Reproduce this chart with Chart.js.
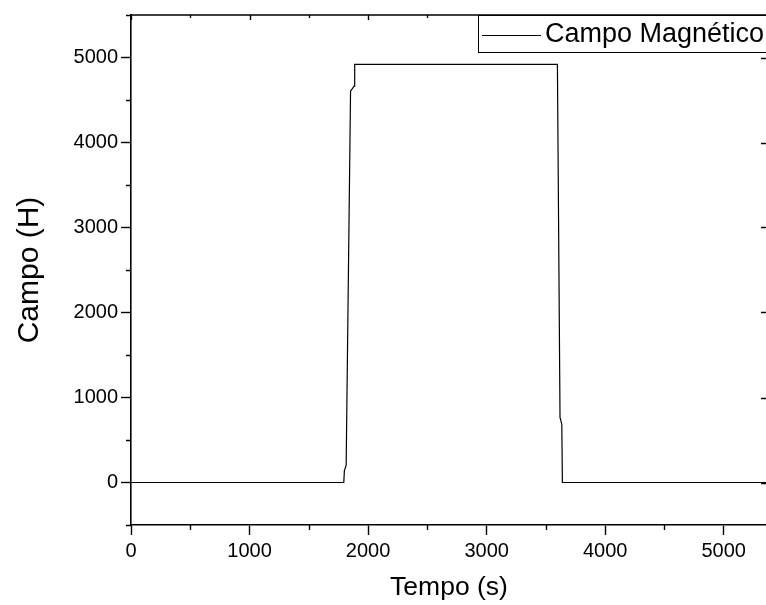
<!DOCTYPE html>
<html>
<head>
<meta charset="utf-8">
<script src="https://cdn.jsdelivr.net/npm/chart.js@4.4.1/dist/chart.umd.min.js"></script>
<style>
	html, body { margin: 0; padding: 0; background: #fff; overflow: hidden; }
	#wrap { width: 766px; height: 605px; overflow: hidden; }
</style>
</head>
<body>
<div id="wrap"><canvas id="chartjs-canvas" width="768" height="605"></canvas></div>
<script>
// time (s) vs magnetic field
const times = [0, 1795, 1800, 1815, 1852, 1882, 1887, 3597, 3619, 3622, 3634, 3639, 5365];
const field = [0, 0, 140, 200, 4605, 4663, 4918, 4918, 760, 750, 683, 0, 0];
const seriesLabel = 'Campo Magnético';

const xMajor = [0, 1000, 2000, 3000, 4000, 5000];
const xMinor = [500, 1500, 2500, 3500, 4500];
const yMajor = [0, 1000, 2000, 3000, 4000, 5000];
const yMinor = [-500, 500, 1500, 2500, 3500, 4500, 5500];

const FONT = '"Liberation Sans", Arial, sans-serif';

// Origin style frame: minor ticks, top/right axes with inward ticks, boxed legend
const framePlugin = {
	id: 'frame',
	afterDraw: chart => {
		const { ctx, chartArea: a, scales: { x, y } } = chart;
		ctx.save();
		ctx.strokeStyle = '#000';
		ctx.lineWidth = 1.6;
		ctx.beginPath();
		ctx.moveTo(a.left, a.top);
		ctx.lineTo(a.right, a.top);
		ctx.lineTo(a.right, a.bottom);
		ctx.stroke();

		ctx.lineWidth = 1.4;
		ctx.beginPath();
		xMinor.forEach(v => {
			const px = Math.round(x.getPixelForValue(v)) + 0.5;
			ctx.moveTo(px, a.bottom); ctx.lineTo(px, a.bottom + 5);
			ctx.moveTo(px, a.top); ctx.lineTo(px, a.top + 3);
		});
		xMajor.forEach(v => {
			const px = Math.round(x.getPixelForValue(v)) + 0.5;
			ctx.moveTo(px, a.top); ctx.lineTo(px, a.top + 5);
		});
		yMinor.forEach(v => {
			const py = Math.round(y.getPixelForValue(v)) + 0.5;
			ctx.moveTo(a.left - 5, py); ctx.lineTo(a.left, py);
		});
		yMajor.forEach(v => {
			const py = Math.round(y.getPixelForValue(v)) + 0.5;
			ctx.moveTo(a.right - 6, py); ctx.lineTo(a.right, py);
		});
		ctx.stroke();

		// legend box
		const bx = 478, by = a.top, bh = 37;
		ctx.fillStyle = '#fff';
		ctx.fillRect(bx, by, a.right - bx, bh);
		ctx.lineWidth = 1;
		ctx.strokeRect(bx + 0.5, by + 0.5, a.right - bx, bh);
		ctx.beginPath();
		ctx.moveTo(482, by + 20.5);
		ctx.lineTo(541, by + 20.5);
		ctx.stroke();
		ctx.fillStyle = '#000';
		ctx.font = '27px ' + FONT;
		ctx.textBaseline = 'middle';
		ctx.fillText(seriesLabel, 545, by + 20);
		ctx.restore();
	}
};

const data = {
	datasets: [{
		label: seriesLabel,
		data: times.map((t, i) => ({ x: t, y: field[i] })),
		borderColor: '#000',
		borderWidth: 1.2,
		pointRadius: 0,
		tension: 0,
		clip: false
	}]
};

const config = {
	type: 'line',
	data,
	options: {
		responsive: false,
		animation: false,
		layout: { padding: { top: 14, right: 1, bottom: 0, left: 0 } },
		plugins: {
			legend: { display: false },
			tooltip: { enabled: false }
		},
		scales: {
			x: {
				type: 'linear',
				min: 0,
				max: 5365,
				afterFit: scale => { scale.height = 80; },
				afterBuildTicks: scale => {
					scale.ticks = xMajor.map(v => ({ value: v }));
				},
				border: { display: true, color: '#000', width: 1.6 },
				grid: { drawOnChartArea: false, color: '#000', tickLength: 10, tickWidth: 1.4 },
				ticks: {
					color: '#000',
					padding: 4,
					maxRotation: 0,
					callback: value => String(value),
					font: { family: FONT, size: 20 }
				},
				title: {
					display: true,
					text: 'Tempo (s)',
					color: '#000',
					padding: { top: 1, bottom: 1 },
					font: { family: FONT, size: 26.5 }
				}
			},
			y: {
				min: -500,
				max: 5500,
				afterFit: scale => { scale.width = 131; },
				afterBuildTicks: scale => {
					scale.ticks = yMajor.map(v => ({ value: v }));
				},
				border: { display: true, color: '#000', width: 1.6 },
				grid: { drawOnChartArea: false, color: '#000', tickLength: 10, tickWidth: 1.4 },
				ticks: {
					color: '#000',
					padding: 3,
					callback: value => String(value),
					font: { family: FONT, size: 20 }
				},
				title: {
					display: true,
					text: 'Campo (H)',
					color: '#000',
					padding: { top: 12, bottom: 12 },
					font: { family: FONT, size: 30 }
				}
			}
		}
	},
	plugins: [framePlugin]
};

new Chart(document.getElementById('chartjs-canvas'), config);
</script>
</body>
</html>
